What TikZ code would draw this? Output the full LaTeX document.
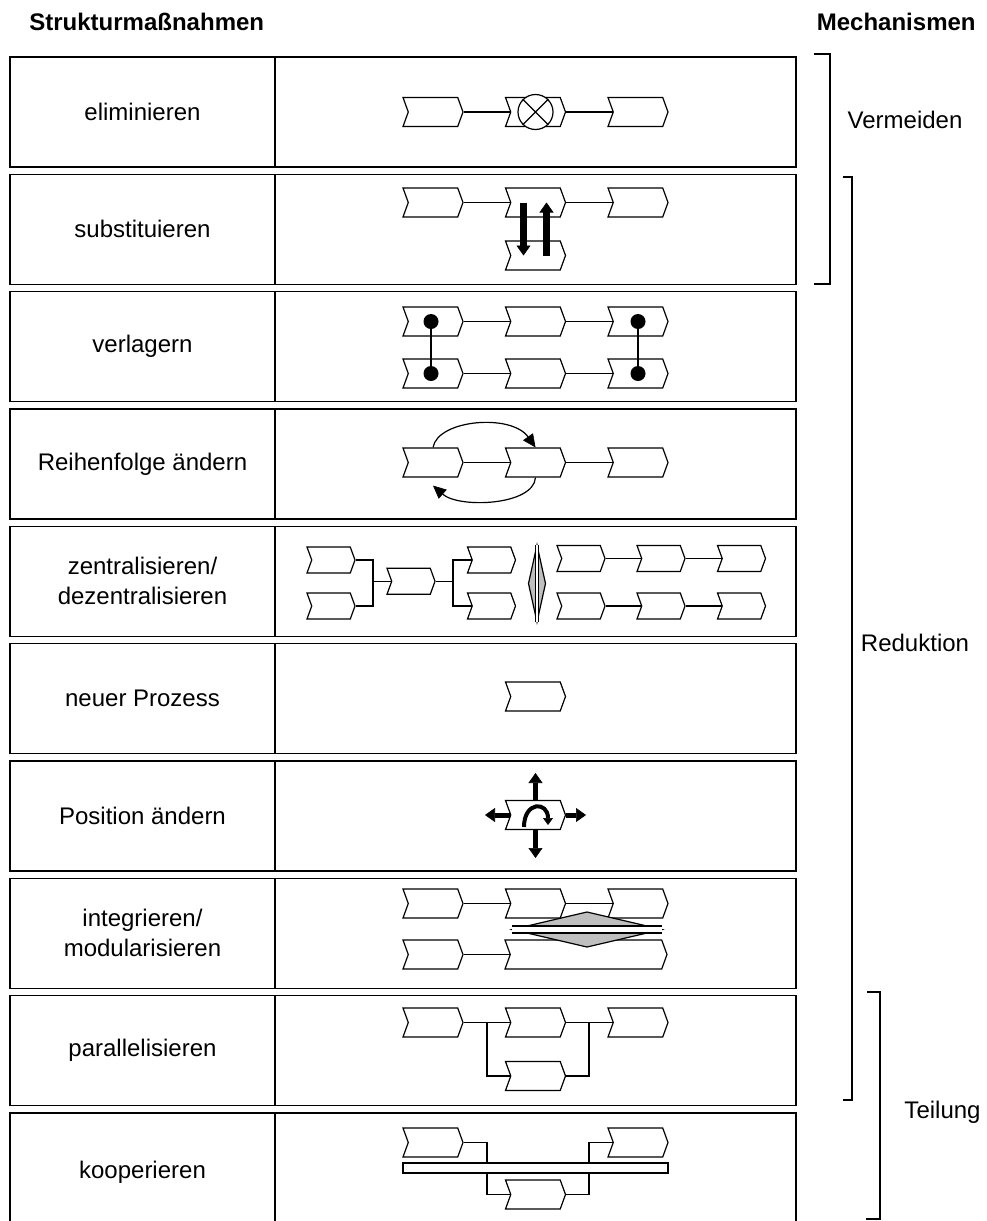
\documentclass[tikz,border=0pt]{standalone}
\usepackage{fontspec}
\setmainfont{Liberation Sans}
\usetikzlibrary{shapes.symbols, arrows.meta, backgrounds, calc}
\tikzset{
  % Zellen der Tabelle
  lcell/.style={draw, line width=0.7pt, minimum width=132.5pt, minimum height=55pt,
    align=center, inner sep=0pt},
  rcell/.style={draw, line width=0.7pt, minimum width=260.5pt, minimum height=55pt,
    inner sep=0pt},
  % Prozessschritt
  proc/.style={signal, signal to=east, signal from=west, signal pointer angle=140,
    draw, fill=white, line width=0.6pt, minimum width=30pt, minimum height=14.5pt,
    inner sep=0pt},
  sproc/.style={proc, minimum width=24pt, minimum height=13pt},
  % Verbindungen
  link/.style={line width=0.6pt},
  dot/.style={circle, fill=black, minimum size=7.5pt, inner sep=0pt},
  xcirc/.style={circle, draw, fill=white, line width=0.6pt, minimum size=17.5pt,
    inner sep=0pt},
  % dicke Pfeile
  bigarrow/.style={line width=3.5pt, -{Triangle[width=7pt, length=5pt, line width=0.3pt]}},
  movearrow/.style={line width=2.5pt, -{Triangle[width=7pt, length=5pt, line width=0.3pt]}},
  swaparrow/.style={line width=0.6pt, -{Triangle[width=6pt, length=6.5pt, line width=0.3pt]}},
  % Raute
  lens/.style={draw, fill=gray!50, line width=0.6pt},
  bracket/.style={line width=0.6pt},
  head/.style={font=\fontsize{12}{15}\selectfont\bfseries, inner sep=0pt},
}
\begin{document}
\begin{tikzpicture}[x=0.5pt, y=-0.5pt, every node/.style={font=\fontsize{12}{15}\selectfont}]
  \useasboundingbox (0,0) rectangle (986,1221);
  \clip (0,0) rectangle (986,1221);
  \node[head, anchor=base west] (sm) at (29,30) {Strukturmaßnahmen};
  \node[head, anchor=base east] (mech) at (976,30) {Mechanismen};
  % Tabelle
  \node[lcell] (l1) at (142.5,112) {eliminieren};
  \node[rcell] (r1) at (535.5,112) {};
  \node[lcell] (l2) at (142.5,229.3) {substituieren};
  \node[rcell] (r2) at (535.5,229.3) {};
  \node[lcell] (l3) at (142.5,346.7) {verlagern};
  \node[rcell] (r3) at (535.5,346.7) {};
  \node[lcell] (l4) at (142.5,464) {Reihenfolge ändern};
  \node[rcell] (r4) at (535.5,464) {};
  \node[lcell] (l5) at (142.5,581.3) {zentralisieren/\\dezentralisieren};
  \node[rcell] (r5) at (535.5,581.3) {};
  \node[lcell] (l6) at (142.5,698.7) {neuer Prozess};
  \node[rcell] (r6) at (535.5,698.7) {};
  \node[lcell] (l7) at (142.5,816) {Position ändern};
  \node[rcell] (r7) at (535.5,816) {};
  \node[lcell] (l8) at (142.5,933.3) {integrieren/\\modularisieren};
  \node[rcell] (r8) at (535.5,933.3) {};
  \node[lcell] (l9) at (142.5,1050.7) {parallelisieren};
  \node[rcell] (r9) at (535.5,1050.7) {};
  \node[lcell, minimum height=59pt] (l10) at (142.5,1172) {kooperieren};
  \node[rcell, minimum height=59pt] (r10) at (535.5,1172) {};
  % eliminieren
  \node[proc] (el1) at (433,112) {};
  \node[proc] (el2) at (535.5,112) {};
  \node[proc] (el3) at (638,112) {};
  \node[xcirc] (ex) at (el2) {};
  \draw[link] (ex.45) -- (ex.225) (ex.135) -- (ex.315);
  % substituieren
  \node[proc] (su1) at (433,202.5) {};
  \node[proc] (su2) at (535.5,202.5) {};
  \node[proc] (su3) at (638,202.5) {};
  \node[proc] (su4) at (535.5,255.5) {};
  \draw[bigarrow] ([xshift=-6pt]su2.center) -- ([xshift=-6pt]su4.center);
  \draw[bigarrow] ([xshift=5.5pt]su4.center) -- ([xshift=5.5pt]su2.center);
  % verlagern
  \node[proc] (ve1) at (433,321.5) {};
  \node[proc] (ve2) at (535.5,321.5) {};
  \node[proc] (ve3) at (638,321.5) {};
  \node[proc] (ve4) at (433,373.5) {};
  \node[proc] (ve5) at (535.5,373.5) {};
  \node[proc] (ve6) at (638,373.5) {};
  \node[dot] (d1) at (431,321.5) {};
  \node[dot] (d2) at (431,373.5) {};
  \node[dot] (d3) at (638,321.5) {};
  \node[dot] (d4) at (638,373.5) {};
  \draw[link] (d1) -- (d2) (d3) -- (d4);
  % Reihenfolge
  \node[proc] (rf1) at (433,462.5) {};
  \node[proc] (rf2) at (535.5,462.5) {};
  \node[proc] (rf3) at (638,462.5) {};
  \draw[swaparrow] (rf1.north) .. controls +(5,-28) and +(-24,-34) .. (rf2.north);
  \draw[swaparrow] (rf2.south) .. controls +(-2,28) and +(26,23) .. ([yshift=-4pt]rf1.south);
  % zentralisieren
  \node[sproc] (ze1) at (331,560) {};
  \node[sproc] (ze2) at (331,606) {};
  \node[sproc] (ze3) at (411,581.3) {};
  \node[sproc] (ze4) at (491.5,560) {};
  \node[sproc] (ze5) at (491.5,606) {};
  \node[sproc] (ze6) at (581,558.5) {};
  \node[sproc] (ze7) at (661,558.5) {};
  \node[sproc] (ze8) at (741.5,558.5) {};
  \node[sproc] (ze9) at (581,606) {};
  \node[sproc] (ze10) at (661,606) {};
  \node[sproc] (ze11) at (741.5,606) {};
  \coordinate (zl) at (373,581.3);
  \coordinate (zr) at (453,581.3);
  \filldraw[lens] (537,545) -- (545.5,583.5) -- (537,622) -- (528.5,583.5) -- cycle;
  \fill[white] (535.3,545) rectangle (538.7,622);
  \draw[link] (535.3,545) -- (535.3,622) (538.7,545) -- (538.7,622);
  % neuer Prozess
  \node[proc] (np) at (535.5,696.5) {};
  % Position
  \node[proc] (po) at (535.5,815) {};
  \coordinate (pon) at (535.5,773);
  \coordinate (pos) at (535.5,858);
  \coordinate (pow) at (485,815);
  \coordinate (poe) at (586,815);
  \draw[movearrow] (po.north) -- (pon);
  \draw[movearrow] (po.south) -- (pos);
  \draw[movearrow] (po.west) -- (pow);
  \draw[movearrow] (po.east) -- (poe);
  \draw[line width=2pt, -{Triangle[width=5pt, length=3.5pt, line width=0.3pt]}]
    (524,827) .. controls (524,801) and (548,801) .. (548,825);
  % integrieren
  \node[proc] (in1) at (433,903.5) {};
  \node[proc] (in2) at (535.5,903.5) {};
  \node[proc] (in3) at (638,903.5) {};
  \node[proc] (in4) at (433,954.5) {};
  \node[proc, minimum width=81pt] (in5) at (586,954.5) {};
  \filldraw[lens] (512,929.5) -- (587,912) -- (662,929.5) -- (587,947) -- cycle;
  \fill[white] (512,926) rectangle (662,933);
  \draw[line width=0.9pt] (512,926) -- (662,926) (512,933) -- (662,933);
  % parallelisieren
  \node[proc] (pa1) at (433,1022.5) {};
  \node[proc] (pa2) at (535.5,1022.5) {};
  \node[proc] (pa3) at (638,1022.5) {};
  \node[proc] (pa4) at (535.5,1076) {};
  \coordinate (pl) at (487,1050);
  \coordinate (pr) at (589,1050);
  % kooperieren
  \node[proc] (ko1) at (433,1142.5) {};
  \node[proc] (ko2) at (638,1142.5) {};
  \node[proc] (ko3) at (535.5,1194.5) {};
  \node[draw, fill=white, line width=0.6pt, minimum width=132.5pt, minimum height=5pt,
    inner sep=0pt] (bar) at (535.5,1168) {};
  \coordinate (kl) at (487,1168);
  \coordinate (kr) at (589,1168);
  % Verbindungen hinter den Prozessschritten
  \begin{pgfonlayer}{background}
    \fill[white] (0,0) rectangle (986,1221);
    \draw[link] (el1.east) -- (el2.west) (el2.east) -- (el3.west);
    \draw[link] (su1.east) -- (su2.west) (su2.east) -- (su3.west);
    \draw[link] (ve1.east) -- (ve2.west) (ve2.east) -- (ve3.west);
    \draw[link] (ve4.east) -- (ve5.west) (ve5.east) -- (ve6.west);
    \draw[link] (rf1.east) -- (rf2.west) (rf2.east) -- (rf3.west);
    \draw[link] (ze1.east) -| (zl) |- (ze2.east) (zl) -- (ze3.west);
    \draw[link] (ze3.east) -- (zr) (ze4.west) -| (zr) |- (ze5.west);
    \draw[link] (ze6.east) -- (ze7.west) (ze7.east) -- (ze8.west);
    \draw[link] (ze9.east) -- (ze10.west) (ze10.east) -- (ze11.west);
    \draw[link] (in1.east) -- (in2.west) (in2.east) -- (in3.west);
    \draw[link] (in4.east) -- (in5.west);
    \draw[link] (pa1.east) -- (pa2.west) (pa2.east) -- (pa3.west);
    \draw[link] (pl |- pa1.east) |- (pa4.west) (pa4.east) -| (pr |- pa2.east);
    \draw[link] (ko1.east) -| (kl |- bar.north) (kl |- bar.south) |- (ko3.west);
    \draw[link] (ko3.east) -| (kr |- bar.south) (kr |- bar.north) |- (ko2.west);
  \end{pgfonlayer}
  % Mechanismen
  \draw[bracket] (814,54) -| (830,284) -- (814,284);
  \draw[bracket] (843,177) -| (852,1100) -- (843,1100);
  \draw[bracket] (867,992) -| (880,1219) -- (866,1219);
  \node (verm) at (905,120) {Vermeiden};
  \node (red) at (915,643) {Reduktion};
  \node (teil) at (942.5,1112) {Teilung};
\end{tikzpicture}
\end{document}
